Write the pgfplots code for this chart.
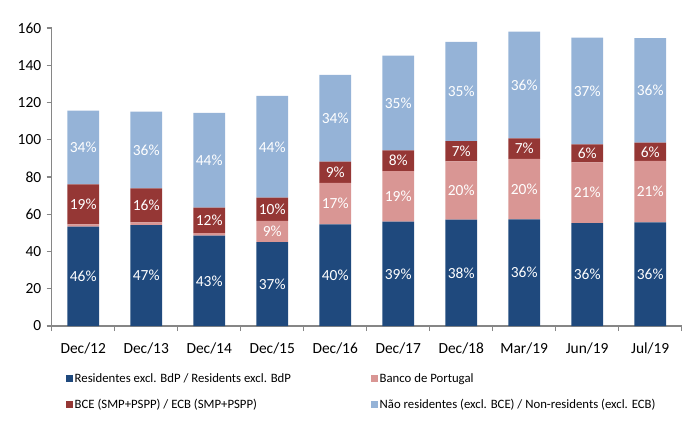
\documentclass[border=0pt]{standalone}
\usepackage{pgfplots}
\pgfplotsset{compat=1.18}
\usepackage{pgfplotstable}
\usepackage{fontspec}
\setmainfont{Carlito}
\definecolor{cRes}{RGB}{31,73,125}
\definecolor{cBdP}{RGB}{217,150,148}
\definecolor{cECB}{RGB}{149,55,53}
\definecolor{cNon}{RGB}{149,179,215}
\definecolor{axgray}{RGB}{134,134,134}

\pgfplotstableread{
x y
0 53.3
1 54.2
2 48.5
3 45.1
4 54.6
5 56.0
6 57.1
7 57.3
8 55.3
9 55.7
}\res
\pgfplotstableread{
x y
0 1.3
1 1.5
2 1.3
3 11.4
4 22.3
5 27.2
6 31.3
7 32.4
8 32.6
9 32.9
}\bdp
\pgfplotstableread{
x y
0 21.5
1 18.2
2 13.7
3 12.4
4 11.3
5 11.1
6 10.9
7 11.1
8 9.6
9 9.8
}\ecb
\pgfplotstableread{
x y
0 39.5
1 41.2
2 50.9
3 54.6
4 46.6
5 50.8
6 53.2
7 57.2
8 57.3
9 56.2
}\non
% share labels at the middle of each segment
\pgfplotstableread{
x y lab
0 26.65 46\%
1 27.1 47\%
2 24.25 43\%
3 22.55 37\%
4 27.3 40\%
5 28.0 39\%
6 28.55 38\%
7 28.65 36\%
8 27.65 36\%
9 27.85 36\%
3 50.8 9\%
4 65.75 17\%
5 69.6 19\%
6 72.75 20\%
7 73.5 20\%
8 71.6 21\%
9 72.15 21\%
0 65.35 19\%
1 64.8 16\%
2 56.65 12\%
3 62.7 10\%
4 82.55 9\%
5 88.75 8\%
6 93.85 7\%
7 95.25 7\%
8 92.7 6\%
9 93.5 6\%
0 95.85 34\%
1 94.5 36\%
2 88.95 44\%
3 96.2 44\%
4 111.5 34\%
5 119.7 35\%
6 125.9 35\%
7 129.4 36\%
8 126.15 37\%
9 126.5 36\%
}\labs

\begin{document}
\begin{tikzpicture}
\begin{axis}[
  anchor=south west, at={(0,0)},
  scale only axis, width=630bp, height=298bp,
  ybar stacked, bar width=31.7bp,
  xmin=-0.5, xmax=9.5, ymin=0, ymax=160,
  xtick={0,...,9},
  xticklabels={Dec/12,Dec/13,Dec/14,Dec/15,Dec/16,Dec/17,Dec/18,Mar/19,Jun/19,Jul/19},
  minor xtick={-0.5,0.5,...,9.5},
  ytick={0,20,...,160},
  axis x line*=bottom, axis y line*=left,
  axis line style={axgray, line width=1.3bp, -},
  tick align=outside,
  major tick length=5bp, minor tick length=5bp,
  xtick style={draw=none},
  minor x tick style={draw=axgray, line width=1.1bp},
  ytick style={draw=axgray, line width=1.1bp},
  /pgf/number format/assume math mode=true,
  tick label style={font=\fontsize{15.5}{18}\selectfont, text=black},
  xticklabel style={yshift=-8bp},
  yticklabel style={xshift=-2bp},
  legend columns=2,
  legend style={at={(0.0227,0)}, anchor=north west, yshift=-46bp, draw=none, fill=none,
    font=\fontsize{12.8}{15}\selectfont, row sep=12bp, inner sep=0pt,
    nodes={inner sep=1.5bp}, cells={anchor=west}},
  legend image code/.code={\fill[#1] (0bp,-3.5bp) rectangle (7bp,3.5bp);},
]
\addplot[fill=cRes, draw=none] table[x=x,y=y]{\res};
\addplot[fill=cBdP, draw=none] table[x=x,y=y]{\bdp};
\addplot[fill=cECB, draw=none] table[x=x,y=y]{\ecb};
\addplot[fill=cNon, draw=none] table[x=x,y=y]{\non};
\addlegendentry{\makebox[295bp][l]{Residentes excl. BdP / Residents excl. BdP}}
\addlegendentry{Banco de Portugal}
\addlegendentry{\makebox[295bp][l]{BCE (SMP+PSPP) / ECB (SMP+PSPP)}}
\addlegendentry{Não residentes (excl. BCE) / Non-residents (excl. ECB)}
\end{axis}
\begin{axis}[
  anchor=south west, at={(0,0)},
  scale only axis, width=630bp, height=298bp,
  xmin=-0.5, xmax=9.5, ymin=0, ymax=160,
  hide axis,
]
\addplot[draw=none, mark=none, nodes near coords, point meta=explicit symbolic,
  every node near coord/.style={anchor=center, font=\fontsize{15.5}{18}\selectfont, text=white}]
  table[x=x,y=y,meta=lab]{\labs};
\end{axis}
\pgfresetboundingbox
\path[use as bounding box] (-51.7bp,-101bp) rectangle (645.3bp,326bp);
\end{tikzpicture}
\end{document}
